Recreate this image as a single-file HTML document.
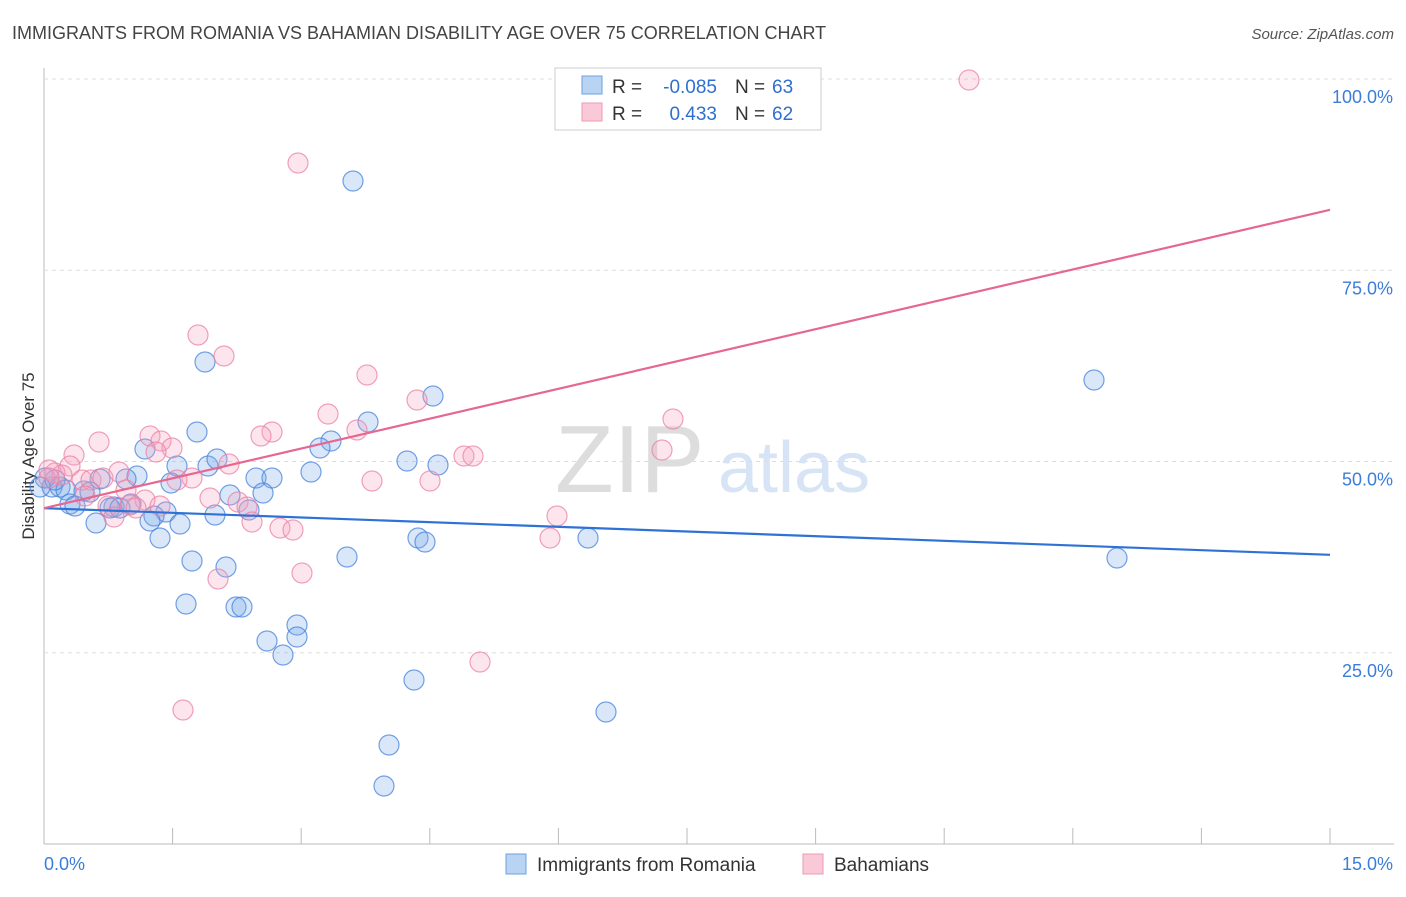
<!DOCTYPE html>
<html><head><meta charset="utf-8"><style>
body{margin:0;background:#fff;font-family:"Liberation Sans",sans-serif}
svg text{font-family:"Liberation Sans",sans-serif}
</style></head><body>
<svg id="c" width="1406" height="892">
<text x="12" y="39" font-size="18" fill="#444">IMMIGRANTS FROM ROMANIA VS BAHAMIAN DISABILITY AGE OVER 75 CORRELATION CHART</text>
<text x="1394" y="39" font-size="15" fill="#555" text-anchor="end" font-style="italic">Source: ZipAtlas.com</text>
<text x="34" y="456" font-size="17" fill="#333" text-anchor="middle" transform="rotate(-90 34 456)">Disability Age Over 75</text>
<text x="555" y="492" font-size="96" fill="#ddd" font-family="Liberation Serif">ZIP</text>
<text x="718" y="492" font-size="72" fill="#d6e4f5">atlas</text>
<g id="grid"></g><g id="pts"></g><g id="lines"></g>
<g>
<rect x="555" y="68" width="266" height="62" fill="#fff" stroke="#ccc"/>
<rect x="582" y="76" width="20" height="18" fill="#b9d3f3" stroke="#6fa0e0"/>
<rect x="582" y="103" width="20" height="18" fill="#f9c9d8" stroke="#ee9ab5"/>
<text x="612" y="93" font-size="19" fill="#333">R =</text>
<text x="717" y="93" font-size="19" fill="#2f6fcf" text-anchor="end">-0.085</text>
<text x="735" y="93" font-size="19" fill="#333">N =</text>
<text x="772" y="93" font-size="19" fill="#2f6fcf">63</text>
<text x="612" y="120" font-size="19" fill="#333">R =</text>
<text x="717" y="120" font-size="19" fill="#2f6fcf" text-anchor="end">0.433</text>
<text x="735" y="120" font-size="19" fill="#333">N =</text>
<text x="772" y="120" font-size="19" fill="#2f6fcf">62</text>
</g>
<g>
<rect x="506" y="854" width="20" height="20" fill="#b9d3f3" stroke="#6fa0e0"/>
<text x="537" y="871" font-size="19" fill="#333">Immigrants from Romania</text>
<rect x="803" y="854" width="20" height="20" fill="#f9c9d8" stroke="#ee9ab5"/>
<text x="834" y="871" font-size="19" fill="#333">Bahamians</text>
</g>
</svg>
<script>
const yTicks=[25,50,75,100];
const xTickLabels=["0.0%","15.0%"];
const blueX=[353,205,433,368,197,331,145,320,407,438,177,208,217,311,256,272,137,100,126,171,52,60,66,84,90,230,263,70,75,114,131,110,120,166,154,215,249,96,150,180,160,418,425,588,347,192,226,186,236,242,297,297,267,283,414,606,389,384,1094,1117,45,40,55].map(p=>(p-44)/1286*15);
const blueY=[181,362,396,422,432,441,449,448,461,465,466,466,459,472,478,478,476,479,479,483,487,487,490,491,492,495,493,504,506,507,504,508,508,512,516,515,510,523,521,524,538,538,542,538,557,561,567,604,607,607,625,637,641,655,680,712,745,786,380,558,478,487,480].map(p=>(844-p)/7.65);
const pinkX=[684,969,298,198,224,367,417,328,673,357,272,261,150,99,161,172,156,662,464,473,74,229,70,55,62,49,82,91,103,119,192,177,372,430,126,85,210,145,238,130,160,108,136,247,114,252,280,293,557,550,302,218,480,183,49].map(p=>(p-44)/1286*15);
const pinkY=[80,80,163,335,356,375,400,414,419,430,432,436,436,442,441,448,452,450,456,456,455,464,466,473,475,470,480,480,478,472,478,480,481,481,490,496,498,500,502,505,506,506,508,507,517,522,528,530,516,538,573,579,662,710,478].map(p=>(844-p)/7.65);
const blueTrend=[43.9,37.8], pinkTrend=[43.9,82.9];
const X=v=>44+v/15*1286, Y=v=>844-v*7.65;
const NS="http://www.w3.org/2000/svg";
function mk(t,a,par){const e=document.createElementNS(NS,t);for(const k in a)e.setAttribute(k,a[k]);document.getElementById(par).appendChild(e);return e;}
const g='grid';
let ax=mk('line',{x1:44,y1:68,x2:44,y2:844,stroke:'#bbb'},g);

let bx=mk('line',{x1:44,y1:844,x2:1394,y2:844,stroke:'#bbb'},g);

for(let i=1;i<=10;i++){const t=mk('line',{x1:X(i*1.5),y1:828,x2:X(i*1.5),y2:844,stroke:'#bbb'},g);
}
yTicks.forEach(v=>{const l=mk('line',{x1:44,y1:Y(v),x2:1394,y2:Y(v),stroke:'#ddd','stroke-dasharray':'4 4'},g);

const t=mk('text',{x:1393,y:Y(v)+24,'font-size':18,fill:'#3b7dd8','text-anchor':'end'},g);t.textContent=v.toFixed(1)+'%';
});
xTickLabels.forEach((s,i)=>{const t=mk('text',{x:i?1393:44,y:870,'font-size':18,fill:'#3b7dd8','text-anchor':i?'end':'start'},g);t.textContent=s;
});
blueX.forEach((x,i)=>{const c=mk('circle',{cx:X(x),cy:Y(blueY[i]),r:10,fill:'rgba(120,170,235,0.28)',stroke:'rgba(70,130,220,0.75)','stroke-width':1.2},'pts');
});
pinkX.forEach((x,i)=>{const c=mk('circle',{cx:X(x),cy:Y(pinkY[i]),r:10,fill:'rgba(245,160,190,0.28)',stroke:'rgba(235,130,165,0.75)','stroke-width':1.2},'pts');
});
let bl=mk('line',{x1:X(0),y1:Y(blueTrend[0]),x2:X(15),y2:Y(blueTrend[1]),stroke:'#2f72d6','stroke-width':2.2},'lines');

let pl=mk('line',{x1:X(0),y1:Y(pinkTrend[0]),x2:X(15),y2:Y(pinkTrend[1]),stroke:'#e6678f','stroke-width':2.2},'lines');

</script>
</body></html>
